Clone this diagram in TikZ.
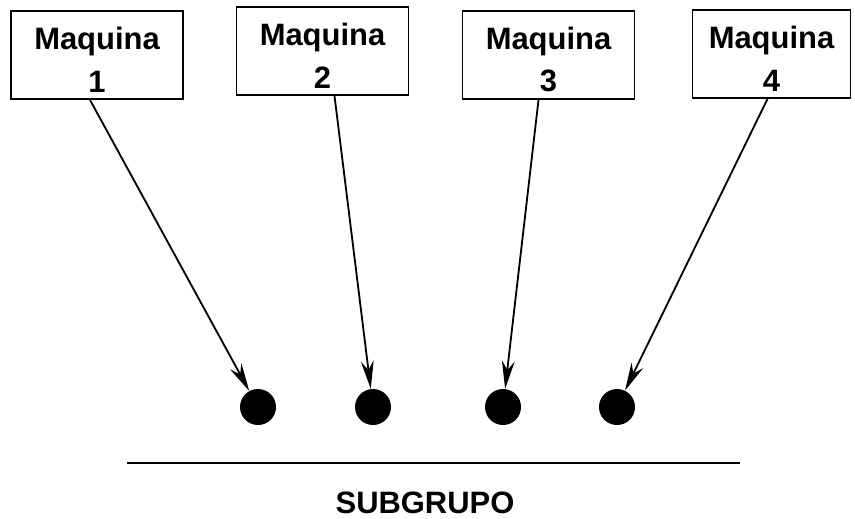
\documentclass[tikz,border=0pt]{standalone}
\usepackage{fontspec}
\setsansfont{Liberation Sans}
\usetikzlibrary{arrows.meta}

\begin{document}
\begin{tikzpicture}[x=0.025cm,y=-0.025cm,>={Stealth[length=0.7cm,width=0.32cm]},
    font=\sffamily\bfseries\fontsize{22}{30}\selectfont,
    maq/.style={draw,line width=1.3pt,minimum width=4.3cm,minimum height=2.2cm,
                align=center,inner sep=0pt},
    punto/.style={circle,fill,inner sep=0pt,minimum size=0.9cm},
    flecha/.style={->,line width=1.3pt}]
  \useasboundingbox (0,0) rectangle (855,519);
  % maquinas
  \node[maq] (m1) at (97,55) {\rule{0pt}{0.8cm}Maquina\\1};
  \node[maq] (m2) at (322.5,51) {\rule{0pt}{0.8cm}Maquina\\2};
  \node[maq] (m3) at (548.5,55) {\rule{0pt}{0.8cm}Maquina\\3};
  \node[maq,minimum width=3.95cm] (m4) at (771.5,54) {\rule{0pt}{0.8cm}Maquina\\4};
  % subgrupo
  \node[punto] (p1) at (258,407) {};
  \node[punto] (p2) at (373,407) {};
  \node[punto] (p3) at (503,407) {};
  \node[punto] (p4) at (617,407) {};
  \draw[flecha] ([xshift=-0.175cm]m1.south) -- (p1);
  \draw[flecha] ([xshift=0.3cm]m2.south) -- (p2);
  \draw[flecha] ([xshift=-0.25cm]m3.south) -- (p3);
  \draw[flecha] ([xshift=-0.1cm]m4.south) -- (p4);
  \coordinate (ia) at (127,463);
  \coordinate (ib) at (740,463);
  \draw[line width=1.3pt] (ia) -- (ib);
  \node[anchor=base,inner sep=0pt] (sg) at (425,513) {SUBGRUPO};
\end{tikzpicture}
\end{document}
